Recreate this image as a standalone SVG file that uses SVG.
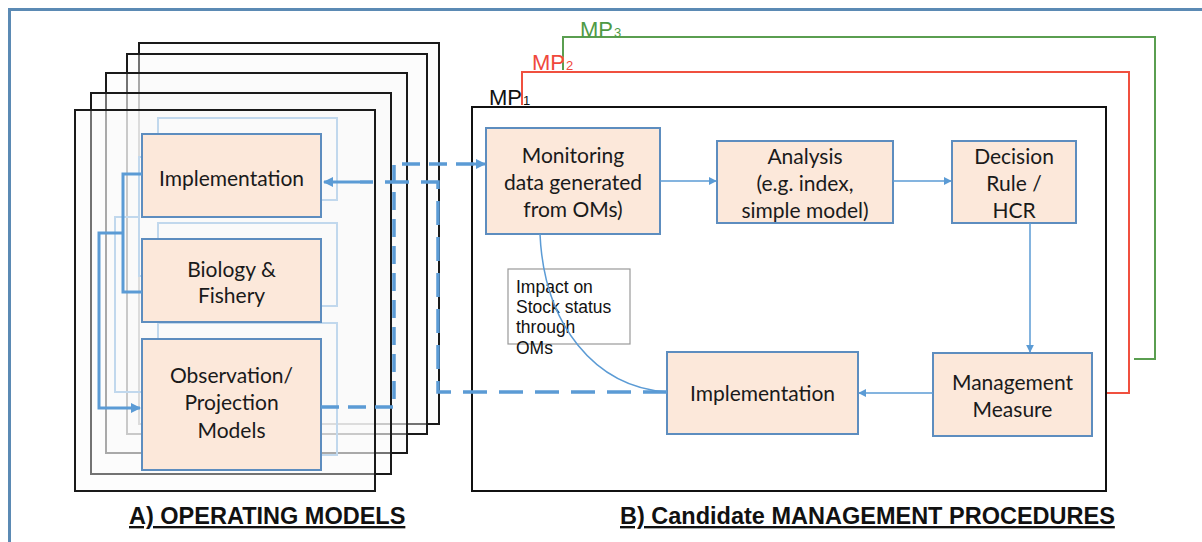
<svg xmlns="http://www.w3.org/2000/svg" width="1202" height="542" viewBox="0 0 1202 542">
<defs>
<style>
.frame{fill:#fbfbfb;fill-opacity:.4;stroke:#1a1a1a;stroke-width:2}
.node rect{fill:#fce8da;stroke:#5d8dbf;stroke-width:2}
.node text{font-family:Lato,"Open Sans","DejaVu Sans",sans-serif;font-size:21px;fill:#1a1a1a;text-anchor:middle}
.shadow{fill:none;stroke:#9cc2e5;stroke-width:2}
.thick{stroke:#5b9bd5;stroke-width:3;fill:none}
.dash1{stroke:#5b9bd5;stroke-width:3.5;fill:none;stroke-dasharray:18 9}
.dash2{stroke:#5b9bd5;stroke-width:3.5;fill:none;stroke-dasharray:24 12}
.thin{stroke:#5b9bd5;stroke-width:1.5;fill:none}
.mp{font-family:"Liberation Sans",Arial,sans-serif;font-size:22px}
.sub{font-family:"Liberation Sans",Arial,sans-serif;font-size:13px}
.title{font-family:"Liberation Sans",Arial,sans-serif;font-size:23.5px;font-weight:bold;text-decoration:underline;fill:#111}
.imp{font-family:"Liberation Sans",Arial,sans-serif;font-size:17.5px;fill:#111}
</style>
<marker id="ah" viewBox="0 0 10 10" refX="9" refY="5" markerWidth="10" markerHeight="10" markerUnits="userSpaceOnUse" orient="auto">
<path d="M0,0 L10,5 L0,10 z" fill="#5b9bd5"/>
</marker>
<marker id="ahs" viewBox="0 0 10 10" refX="9" refY="5" markerWidth="8" markerHeight="8" markerUnits="userSpaceOnUse" orient="auto">
<path d="M0,0 L10,5 L0,10 z" fill="#5b9bd5"/>
</marker>
</defs>
<rect width="1202" height="542" fill="#fff"/>
<path d="M9.5,542 V9.5 H1202" fill="none" stroke="#5b8ab4" stroke-width="3"/>

<g id="operating-models">
<rect class="frame" x="139" y="43" width="300" height="381"/>
<rect class="frame" x="127" y="54" width="300" height="380"/>
<rect class="frame" x="106" y="73" width="301" height="380"/>
<rect class="frame" x="91" y="93" width="300" height="381"/>
<g id="om-shadow">
<rect class="shadow" x="158" y="118" width="179" height="82"/>
<rect class="shadow" x="158" y="223" width="179" height="83"/>
<rect class="shadow" x="158" y="323" width="179" height="132"/>
<path class="shadow" d="M158,157 H139 V276 H158 M139,217 H115 V392 H158"/>
</g>
<rect class="frame" x="75" y="110" width="300" height="381"/>
</g>

<g id="mp-frames">
<path d="M563,70 V37 H1155 V359 H1134" fill="none" stroke="#5a9e50" stroke-width="2"/>
<path d="M522,105 V72 H1129 V393 H1106" fill="none" stroke="#f0503f" stroke-width="2"/>
<rect x="472" y="107" width="634" height="384" fill="#fff" stroke="#111" stroke-width="2"/>
<text class="mp" x="580" y="37" fill="#4f9a45">MP<tspan class="sub" dx="1">3</tspan></text>
<text class="mp" x="532" y="70" fill="#f0483c">MP<tspan class="sub" dx="1">2</tspan></text>
<text class="mp" x="489" y="105" fill="#111">MP<tspan class="sub" dx="1">1</tspan></text>
</g>

<g id="impact-note">
<rect x="508" y="269" width="122" height="75" fill="none" stroke="#999" stroke-width="1.2"/>
<text class="imp" x="516" y="293">Impact on</text>
<text class="imp" x="516" y="313">Stock status</text>
<text class="imp" x="516" y="333">through</text>
<text class="imp" x="516" y="354">OMs</text>
</g>

<g id="node-om-implementation" class="node">
<rect x="142" y="134" width="179" height="83"/>
<text x="231.5" y="186">Implementation</text>
</g>
<g id="node-biology" class="node">
<rect x="142" y="239" width="179" height="83"/>
<text x="231.5" y="277">Biology &amp;</text>
<text x="231.5" y="303">Fishery</text>
</g>
<g id="node-observation" class="node">
<rect x="142" y="339" width="179" height="131"/>
<text x="231.5" y="383">Observation/</text>
<text x="231.5" y="410">Projection</text>
<text x="231.5" y="438">Models</text>
</g>
<g id="node-monitoring" class="node">
<rect x="486" y="128" width="174" height="106"/>
<text x="573" y="163">Monitoring</text>
<text x="573" y="190">data generated</text>
<text x="573" y="217">from OMs)</text>
</g>
<g id="node-analysis" class="node">
<rect x="717" y="141" width="176" height="82"/>
<text x="805" y="164">Analysis</text>
<text x="805" y="191">(e.g. index,</text>
<text x="805" y="218">simple model)</text>
</g>
<g id="node-decision" class="node">
<rect x="952" y="141" width="124" height="82"/>
<text x="1014" y="164">Decision</text>
<text x="1014" y="191">Rule /</text>
<text x="1014" y="218">HCR</text>
</g>
<g id="node-management" class="node">
<rect x="933" y="353" width="159" height="83"/>
<text x="1012.5" y="390">Management</text>
<text x="1012.5" y="417">Measure</text>
</g>
<g id="node-mp-implementation" class="node">
<rect x="667" y="352" width="191" height="82"/>
<text x="762.5" y="401">Implementation</text>
</g>

<g id="connectors">
<path class="thick" d="M142,174 H123 V292 H142"/>
<path class="thick" d="M123,233 H99 V408 H140" marker-end="url(#ah)"/>
<path class="thick" d="M360,182 H324" marker-end="url(#ah)"/>
<path class="dash2" d="M667,392 H438 V182 H360"/>
<path class="dash1" d="M321,407 H394 V164 H476"/>
<path class="thick" d="M474,164 H485" marker-end="url(#ah)"/>
<path class="thin" d="M660,181 H716" marker-end="url(#ahs)"/>
<path class="thin" d="M893,181 H951" marker-end="url(#ahs)"/>
<path class="thin" d="M1030,223 V352" marker-end="url(#ahs)"/>
<path class="thin" d="M933,393 H859" marker-end="url(#ahs)"/>
<path class="thin" d="M540,234 C544,325 595,387 667,392"/>
</g>

<g id="titles">
<text class="title" x="129" y="524">A) OPERATING MODELS</text>
<text class="title" x="620" y="524">B) Candidate MANAGEMENT PROCEDURES</text>
</g>
</svg>
